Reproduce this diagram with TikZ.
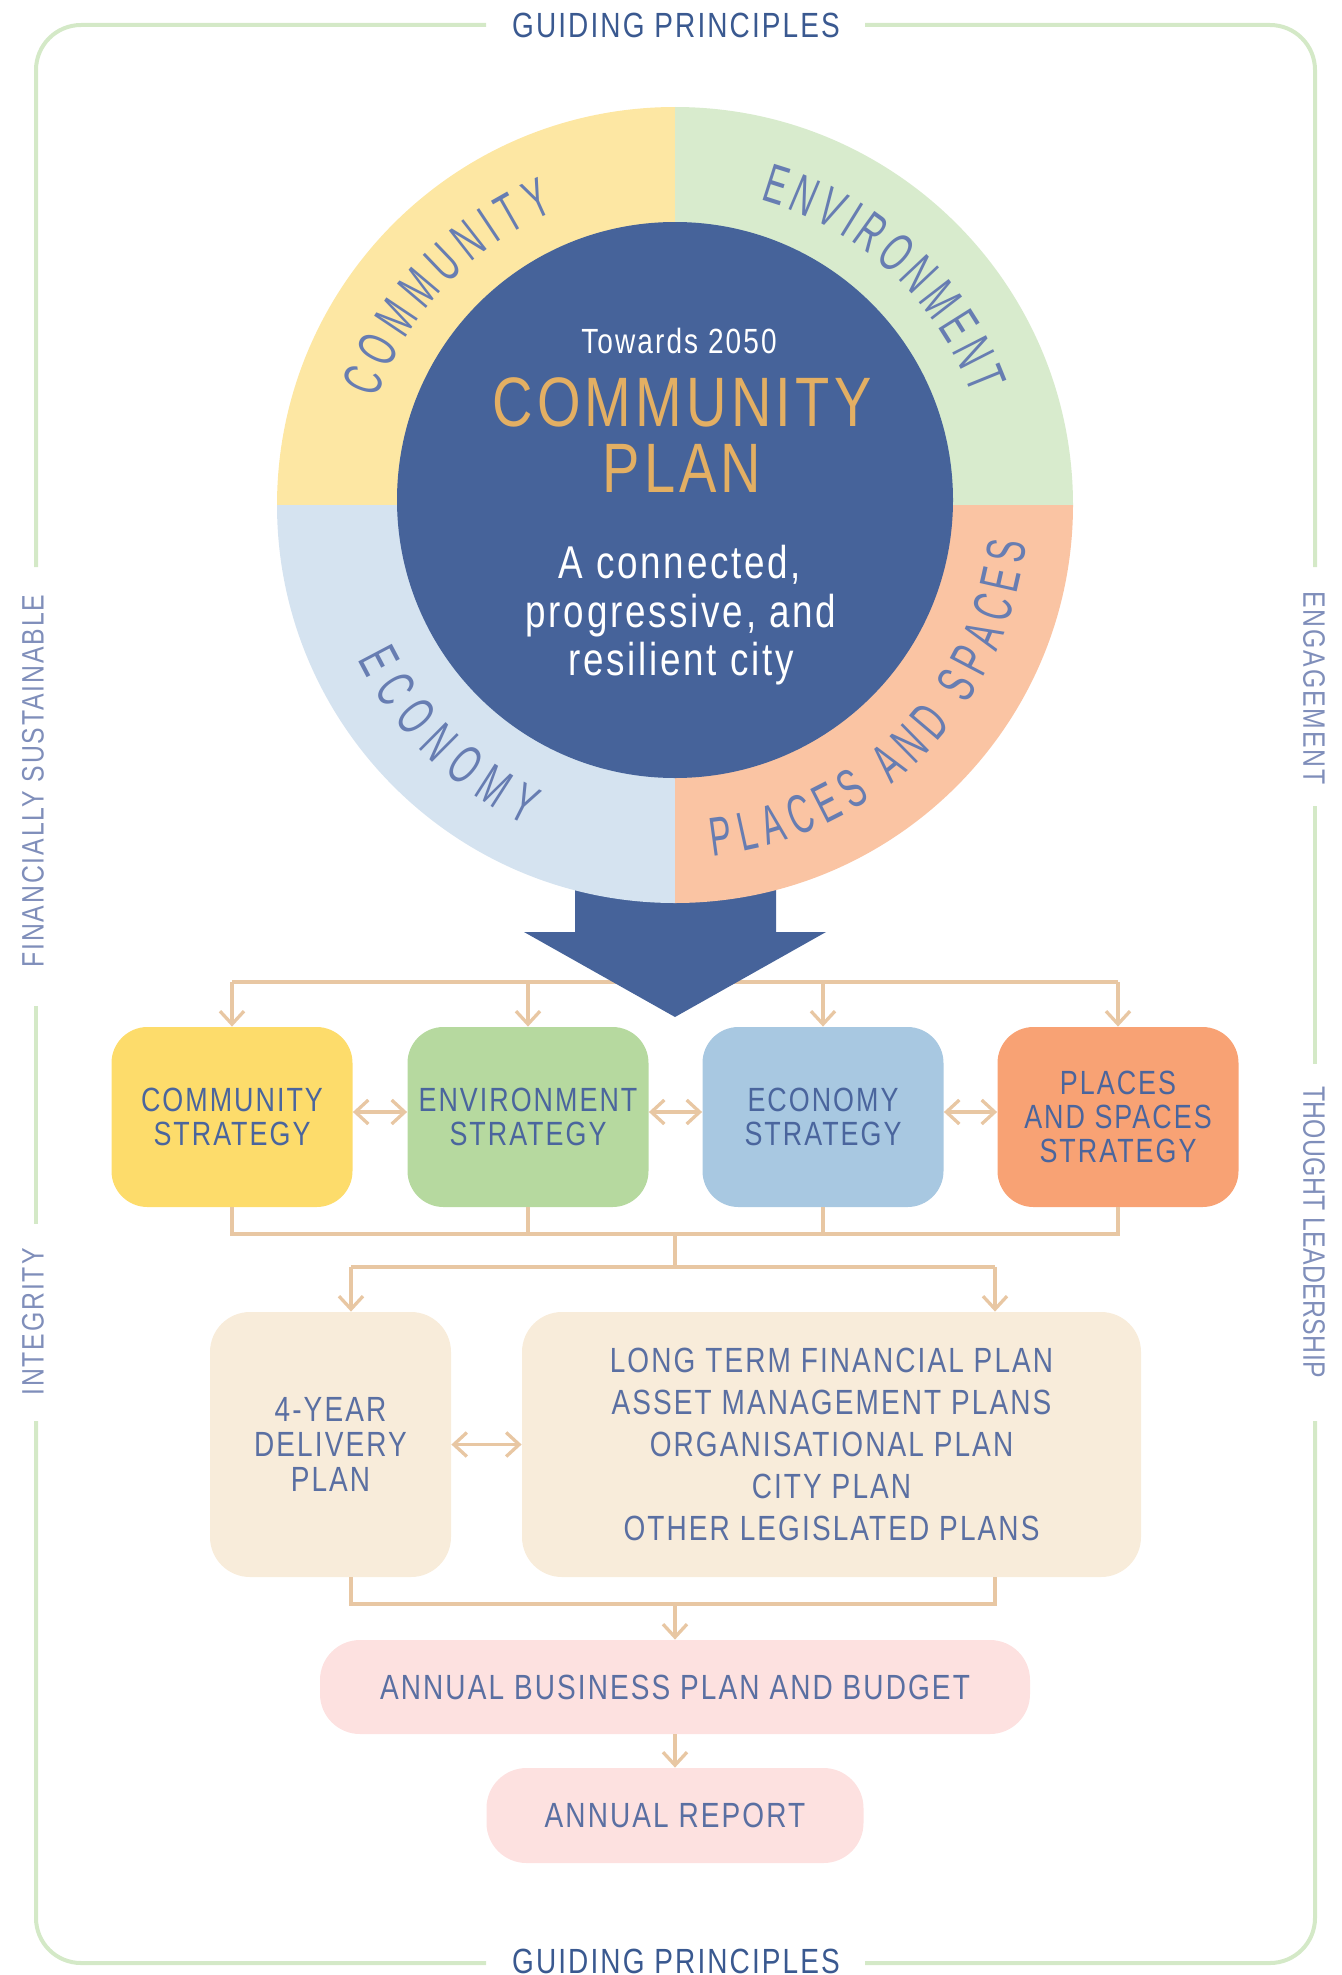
\documentclass[tikz,border=0pt]{standalone}
\usepackage{fontspec}
\setmainfont{Liberation Sans}[FakeStretch=0.8,LetterSpace=6]
\newfontfamily\arcfont{Liberation Sans}[FakeStretch=0.6]
\newfontfamily\tightfont{Liberation Sans}[FakeStretch=0.8,LetterSpace=1]
\usetikzlibrary{arrows.meta,decorations.text,calc}
\definecolor{bordergreen}{HTML}{D4E9C7}
\definecolor{gptext}{HTML}{3A5990}
\definecolor{sidetext}{HTML}{7F8EBA}
\definecolor{ringblue}{HTML}{46639A}
\definecolor{gold}{HTML}{E3AF63}
\definecolor{qCom}{HTML}{FDE7A3}
\definecolor{qEnv}{HTML}{D8EBCD}
\definecolor{qEco}{HTML}{D5E3F0}
\definecolor{qPla}{HTML}{FAC4A3}
\definecolor{arctext}{HTML}{677DB2}
\definecolor{cCom}{HTML}{FDDC6B}
\definecolor{cEnv}{HTML}{B6D99F}
\definecolor{cEco}{HTML}{A8C8E1}
\definecolor{cPla}{HTML}{F8A274}
\definecolor{boxtext}{HTML}{4A659D}
\definecolor{lfill}{HTML}{F8ECDA}
\definecolor{ltext}{HTML}{5A6FA2}
\definecolor{afill}{HTML}{FDE1E0}
\definecolor{connc}{HTML}{E8C7A3}
\tikzset{
  gp/.style={text=gptext, font=\fontsize{17.5}{20}\selectfont, inner sep=0pt},
  side/.style={text=sidetext, font=\fontsize{15.5}{18}\selectfont, inner sep=0pt},
  sbox/.style={rounded corners=18pt, minimum width=120.5pt, minimum height=90pt,
    align=center, text=boxtext, font=\fontsize{16.8}{17}\selectfont, inner sep=0pt},
  lbox/.style={rounded corners=20pt, fill=lfill, minimum height=132.5pt,
    align=center, text=ltext, inner sep=0pt},
  abox/.style={rounded corners=20pt, fill=afill, align=center, text=ltext,
    font=\fontsize{17.5}{20}\selectfont, inner sep=0pt},
  conn/.style={draw=connc, line width=1.65pt},
  arr/.style={conn, -{Straight Barb[length=6.5pt,width=12pt]}},
  dbl/.style={conn, {Straight Barb[length=6.5pt,width=12pt]}-{Straight Barb[length=6.5pt,width=12pt]}},
  ctext/.style={inner sep=0pt, anchor=base},
  arcdeco/.style={decorate, decoration={text along path, text={|\arcfont\fontsize{27.5}{30}\selectfont|#1},
    text color=arctext, text align={fit to path}}}
}
\begin{document}
\begin{tikzpicture}[x=0.5pt,y=0.5pt]
\useasboundingbox (0,0) rectangle (1342,-1975);

% frame
\begin{scope}[line width=2pt, draw=bordergreen, rounded corners=22.5pt]
\draw (486,-25) -- (36,-25) -- (36,-567);
\draw (36,-1006) -- (36,-1224);
\draw (36,-1421) -- (36,-1963) -- (486,-1963);
\draw (865,-25) -- (1315,-25) -- (1315,-567);
\draw (1315,-806) -- (1315,-1064);
\draw (1315,-1421) -- (1315,-1963) -- (865,-1963);
\end{scope}
\node[gp, anchor=base] (gpTop) at (676,-38) {GUIDING PRINCIPLES};
\node[gp, anchor=base] (gpBot) at (676,-1973) {GUIDING PRINCIPLES};
\node[side, rotate=90] (sFin) at (33,-781) {FINANCIALLY SUSTAINABLE};
\node[side, rotate=90] (sInt) at (33,-1322) {INTEGRITY};
\node[side, rotate=-90] (sEng) at (1314,-688) {ENGAGEMENT};
\node[side, rotate=-90, font=\tightfont\fontsize{15.5}{18}\selectfont] (sTho) at (1314,-1232) {THOUGHT LEADERSHIP};

% strategy boxes
\node[sbox, fill=cCom] (s1) at (232,-1117) {COMMUNITY\\STRATEGY};
\node[sbox, fill=cEnv] (s2) at (528,-1117) {ENVIRONMENT\\STRATEGY};
\node[sbox, fill=cEco] (s3) at (823,-1117) {ECONOMY\\STRATEGY};
\node[sbox, fill=cPla] (s4) at (1118,-1117) {PLACES\\AND SPACES\\STRATEGY};

% plan boxes
\node[lbox, minimum width=120.5pt, font=\fontsize{17.5}{17.5}\selectfont] (d4) at (330.5,-1444.5) {4-YEAR\\DELIVERY\\PLAN};
\node[lbox, minimum width=309.5pt, font=\fontsize{17.5}{21}\selectfont] (lp) at (831.5,-1444.5)
  {LONG TERM FINANCIAL PLAN\\ASSET MANAGEMENT PLANS\\ORGANISATIONAL PLAN\\CITY PLAN\\OTHER LEGISLATED PLANS};
\node[abox, minimum width=355pt, minimum height=47pt] (ab) at (675,-1687) {ANNUAL BUSINESS PLAN AND BUDGET};
\node[abox, minimum width=188.5pt, minimum height=47.5pt] (rp) at (675,-1815.5) {ANNUAL REPORT};

% connectors
\coordinate (busA) at (232,-982);
\coordinate (busB) at (1118,-982);
\draw[conn] (busA) -- (busB);
\draw[arr] (busA) -- (s1.north);
\draw[arr] (s2.north |- busA) -- (s2.north);
\draw[arr] (s3.north |- busA) -- (s3.north);
\draw[arr] (busB) -- (s4.north);
\draw[dbl] ([yshift=2.5pt]s1.east) -- ([yshift=2.5pt]s2.west);
\draw[dbl] ([yshift=2.5pt]s2.east) -- ([yshift=2.5pt]s3.west);
\draw[dbl] ([yshift=2.5pt]s3.east) -- ([yshift=2.5pt]s4.west);

\coordinate (busC) at (675,-1234);
\draw[conn] (s1.south) |- (busC) -| (s4.south);
\draw[conn] (s2.south) -- (s2.south |- busC);
\draw[conn] (s3.south) -- (s3.south |- busC);
\coordinate (busD) at (675,-1267);
\coordinate (busDL) at (351,-1267);
\coordinate (busDR) at (995,-1267);
\draw[conn] (busC) -- (busD);
\draw[conn] (busDL) -- (busDR);
\draw[arr] (busDL) -- (busDL |- d4.north);
\draw[arr] (busDR) -- (busDR |- lp.north);
\draw[dbl] (d4.east) -- (lp.west);

\coordinate (busE) at (675,-1604);
\coordinate (busEL) at (351,-1604);
\coordinate (busER) at (995,-1604);
\draw[conn] (busEL |- d4.south) -- (busEL) -- (busER) -- (busER |- lp.south);
\draw[arr] (busE) -- (ab.north);
\draw[arr] (ab.south) -- (rp.north);

% big arrow
\fill[ringblue] (575,-860) -- (776,-860) -- (776,-932) -- (826,-932) -- (675,-1017)
  -- (524,-932) -- (575,-932) -- cycle;

% ring
\coordinate (rc) at (675,-505);
\fill[qCom] (rc) -- ++(180:398) arc[start angle=180,end angle=90,radius=398] -- cycle;
\fill[qEnv] (rc) -- ++(90:398) arc[start angle=90,end angle=0,radius=398] -- cycle;
\fill[qEco] (rc) -- ++(180:398) arc[start angle=180,end angle=270,radius=398] -- cycle;
\fill[qPla] (rc) -- ++(270:398) arc[start angle=270,end angle=360,radius=398] -- cycle;
\fill[ringblue] (675,-500) circle[radius=278];

\path[arcdeco=COMMUNITY] ($(rc)+(160.4:317)$) arc[start angle=160.4,end angle=112.4,radius=317];
\path[arcdeco=ENVIRONMENT] ($(rc)+(74.3:317)$) arc[start angle=74.3,end angle=20.3,radius=317];
\path[arcdeco=ECONOMY] ($(rc)+(206:353)$) arc[start angle=206,end angle=245,radius=353];
\path[arcdeco={PLACES AND SPACES}] ($(rc)+(276.1:353)$) arc[start angle=276.1,end angle=353.8,radius=353];

% centre text
\node[ctext, text=white, font=\fontsize{17.5}{20}\selectfont] (tw) at (679,-353) {Towards 2050};
\node[ctext, text=gold, font=\fontsize{35}{40}\selectfont] (cp1) at (682,-426) {COMMUNITY};
\node[ctext, text=gold, font=\fontsize{35}{40}\selectfont] (cp2) at (682,-492) {PLAN};
\node[ctext, text=white, font=\fontsize{23}{26}\selectfont] (v1) at (680,-578) {A connected,};
\node[ctext, text=white, font=\fontsize{23}{26}\selectfont] (v2) at (681,-627) {progressive, and};
\node[ctext, text=white, font=\fontsize{23}{26}\selectfont] (v3) at (681,-675) {resilient city};
\end{tikzpicture}
\end{document}
